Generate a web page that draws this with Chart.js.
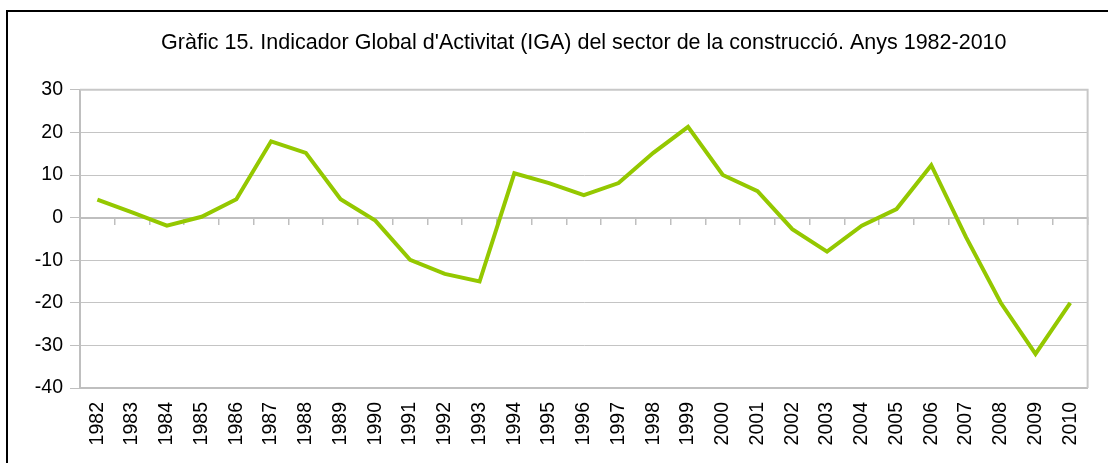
<!DOCTYPE html>
<html>
<head>
<meta charset="utf-8">
<script src="https://cdn.jsdelivr.net/npm/chart.js@4/dist/chart.umd.min.js"></script>
<style>
  body { margin: 0; background: #fff; }
  #marc { position: absolute; left: 6px; top: 10px; width: 1200px; height: 500px;
          border-left: 2px solid #000; border-top: 2px solid #000; }
  #grafic { position: absolute; left: 0; top: 0; }
</style>
</head>
<body>
<div id="marc"></div>
<canvas id="grafic" width="1108" height="463"></canvas>
<script>
const anys = ["1982","1983","1984","1985","1986","1987","1988","1989","1990","1991",
  "1992","1993","1994","1995","1996","1997","1998","1999","2000","2001",
  "2002","2003","2004","2005","2006","2007","2008","2009","2010"];
const iga = [4.2, 1.2, -1.9, 0.2, 4.3, 17.9, 15.2, 4.3, -0.7, -9.9,
  -13.2, -15.0, 10.4, 8.1, 5.3, 8.1, 15.2, 21.3, 10.0, 6.2,
  -2.7, -8.0, -1.9, 2.0, 12.3, -4.6, -20.0, -32.0, -20.0];
const titol = "Gràfic 15. Indicador Global d'Activitat (IGA) del sector de la construcció. Anys 1982-2010";

const font = { family: "'Liberation Sans', Arial, sans-serif", size: 19.5 };
const gris = "#bfbfbf";

// vora de l'area del grafic (dalt i dreta)
const voraArea = {
  id: "voraArea",
  beforeDatasetsDraw(chart) {
    const { ctx, chartArea: a } = chart;
    ctx.save();
    ctx.strokeStyle = "#c8c8c8";
    ctx.lineWidth = 2;
    ctx.beginPath();
    ctx.moveTo(a.left, a.top);
    ctx.lineTo(a.right, a.top);
    ctx.lineTo(a.right, a.bottom);
    ctx.stroke();
    ctx.restore();
  }
};

new Chart(document.getElementById("grafic"), {
  type: "line",
  data: {
    labels: anys,
    datasets: [{
      data: iga,
      borderColor: "#94c800",
      borderWidth: 4,
      pointRadius: 0,
      tension: 0,
      fill: false
    }]
  },
  options: {
    responsive: false,
    animation: false,
    layout: { padding: { left: 0, right: 18, top: 0, bottom: 0 } },
    plugins: {
      legend: { display: false },
      tooltip: { enabled: false },
      title: {
        display: true,
        text: titol,
        fullSize: false,
        color: "#000",
        font: { family: font.family, size: 21.5, weight: "normal" },
        padding: { top: 30, bottom: 34 }
      }
    },
    scales: {
      x: {
        type: "category",
        position: "bottom",
        offset: true,
        grid: { display: false, drawTicks: false },
        border: { display: true, color: gris, width: 2 },
        ticks: { color: "#000", font: font, minRotation: 90, maxRotation: 90, padding: 14, autoSkip: false },
        afterFit(s) { s.height = 75; }
      },
      x2: {
        type: "category",
        position: { y: 0 },
        offset: true,
        grid: { display: true, drawOnChartArea: false, offset: true, tickLength: 6, color: gris, lineWidth: 1.5 },
        border: { display: true, color: gris, width: 2 },
        ticks: { display: false }
      },
      y: {
        min: -40,
        max: 30,
        ticks: { stepSize: 10, color: "#000", font: font, padding: 7 },
        grid: { color: "#c4c4c4", lineWidth: 1, tickLength: 10, tickColor: gris, tickBorderDash: [], borderDash: [1, 1] },
        border: { display: true, color: gris, width: 2, dash: [] },
        afterFit(s) { s.width = 80; }
      }
    }
  },
  plugins: [voraArea]
});
</script>
</body>
</html>
